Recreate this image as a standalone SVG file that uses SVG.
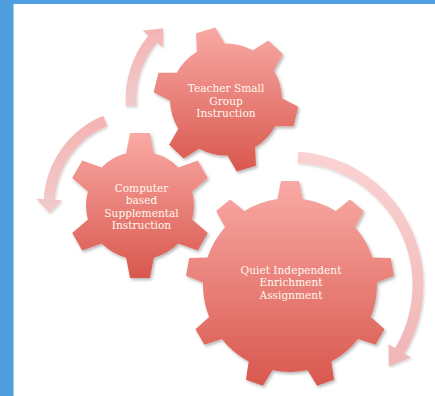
<svg xmlns="http://www.w3.org/2000/svg" width="435" height="396" viewBox="0 0 435 396">
<style>
.lbl{font-family:"DejaVu Serif","Liberation Serif",serif;font-size:10.6px;fill:#fff8f0;text-anchor:middle}
.band{fill:#4f9edf}
</style>
<defs>
<linearGradient id="gearGrad" x1="0" y1="0" x2="0" y2="1">
<stop offset="0" stop-color="#f9aaa5"/>
<stop offset="1" stop-color="#d8564c"/>
</linearGradient>
<linearGradient id="arrGrad" x1="0" y1="0" x2="0" y2="1">
<stop offset="0" stop-color="#f5b3b3"/>
<stop offset="1" stop-color="#f1cbcb"/>
</linearGradient>
<linearGradient id="arrGradC" x1="0" y1="0" x2="0" y2="1">
<stop offset="0" stop-color="#fbd2d2"/>
<stop offset="1" stop-color="#efb6b6"/>
</linearGradient>
<filter id="sh" x="-15%" y="-15%" width="135%" height="135%">
<feDropShadow dx="1.5" dy="2" stdDeviation="1.5" flood-color="#000" flood-opacity="0.28"/>
</filter>
<filter id="shA" x="-20%" y="-20%" width="140%" height="140%">
<feDropShadow dx="1" dy="1.5" stdDeviation="1.2" flood-color="#000" flood-opacity="0.18"/>
</filter>
<clipPath id="c1">
<circle cx="226" cy="99.5" r="56"/>
<polygon points="210.5,49.5 216,27.5 236,27.5 241.5,49.5" transform="rotate(43.6 226 99.5)"/>
<polygon points="210.5,49.5 216,27.5 236,27.5 241.5,49.5" transform="rotate(103.6 226 99.5)"/>
<polygon points="210.5,49.5 216,27.5 236,27.5 241.5,49.5" transform="rotate(163.6 226 99.5)"/>
<polygon points="210.5,49.5 216,27.5 236,27.5 241.5,49.5" transform="rotate(223.6 226 99.5)"/>
<polygon points="210.5,49.5 216,27.5 236,27.5 241.5,49.5" transform="rotate(283.6 226 99.5)"/>
<polygon points="210.5,49.5 216,27.5 236,27.5 241.5,49.5" transform="rotate(343.6 226 99.5)"/>
</clipPath>
<clipPath id="c2">
<circle cx="140" cy="205.5" r="54"/>
<polygon points="125,159.5 130,133 150,133 155,159.5"/>
<polygon points="125,159.5 130,133 150,133 155,159.5" transform="rotate(60 140 205.5)"/>
<polygon points="125,159.5 130,133 150,133 155,159.5" transform="rotate(120 140 205.5)"/>
<polygon points="125,159.5 130,133 150,133 155,159.5" transform="rotate(180 140 205.5)"/>
<polygon points="125,159.5 130,133 150,133 155,159.5" transform="rotate(240 140 205.5)"/>
<polygon points="125,159.5 130,133 150,133 155,159.5" transform="rotate(300 140 205.5)"/>
</clipPath>
<clipPath id="c3">
<circle cx="290" cy="285" r="87"/>
<polygon points="276.1,205 281,181 299,181 303.9,205"/>
<polygon points="276.1,205 281,181 299,181 303.9,205" transform="rotate(40 290 285)"/>
<polygon points="276.1,205 281,181 299,181 303.9,205" transform="rotate(80 290 285)"/>
<polygon points="276.1,205 281,181 299,181 303.9,205" transform="rotate(120 290 285)"/>
<polygon points="276.1,205 281,181 299,181 303.9,205" transform="rotate(160 290 285)"/>
<polygon points="276.1,205 281,181 299,181 303.9,205" transform="rotate(200 290 285)"/>
<polygon points="276.1,205 281,181 299,181 303.9,205" transform="rotate(240 290 285)"/>
<polygon points="276.1,205 281,181 299,181 303.9,205" transform="rotate(280 290 285)"/>
<polygon points="276.1,205 281,181 299,181 303.9,205" transform="rotate(320 290 285)"/>
</clipPath>
</defs>
<rect x="0" y="0" width="435" height="396" fill="#ffffff"/>
<rect class="band" x="0" y="0" width="435" height="4"/>
<rect class="band" x="0" y="0" width="13.5" height="396"/>
<g id="connectors" filter="url(#shA)">
<path fill="url(#arrGrad)" d="M125.75,106.51 A100.5,100.5 0 0 1 148.45,35.57 L142.67,30.8 L163.05,28.35 L162.73,47.34 L156.94,42.57 A89.5,89.5 0 0 0 136.72,105.74 Z"/>
<path fill="url(#arrGrad)" d="M103.07,115.85 A96.5,96.5 0 0 0 43.68,199.11 L36.19,198.65 L49.35,212.93 L62.15,200.24 L54.66,199.78 A85.5,85.5 0 0 1 107.28,126.01 Z"/>
<path fill="url(#arrGradC)" d="M298.15,151.75 A133.5,133.5 0 0 1 404.43,353.76 L410.86,357.62 L388.77,366.42 L388.57,344.23 L395,348.09 A122.5,122.5 0 0 0 297.48,162.73 Z"/>
</g>
<g id="gear-teacher">
<g filter="url(#sh)"><rect x="152" y="26" width="148" height="148" fill="url(#gearGrad)" clip-path="url(#c1)"/></g>
<text class="lbl" x="226" y="92.4">Teacher Small</text>
<text class="lbl" x="226" y="104.9">Group</text>
<text class="lbl" x="226" y="117.4">Instruction</text>
</g>
<g id="gear-computer">
<g filter="url(#sh)"><rect x="66" y="132" width="148" height="148" fill="url(#gearGrad)" clip-path="url(#c2)"/></g>
<text class="lbl" x="141.5" y="191.5">Computer</text>
<text class="lbl" x="141.5" y="204">based</text>
<text class="lbl" x="141.5" y="216.5">Supplemental</text>
<text class="lbl" x="141.5" y="229">Instruction</text>
</g>
<g id="gear-quiet">
<g filter="url(#sh)"><rect x="185" y="180" width="210" height="210" fill="url(#gearGrad)" clip-path="url(#c3)"/></g>
<text class="lbl" x="291" y="273.6">Quiet Independent</text>
<text class="lbl" x="291" y="286.1">Enrichment</text>
<text class="lbl" x="291" y="298.6">Assignment</text>
</g>
</svg>
